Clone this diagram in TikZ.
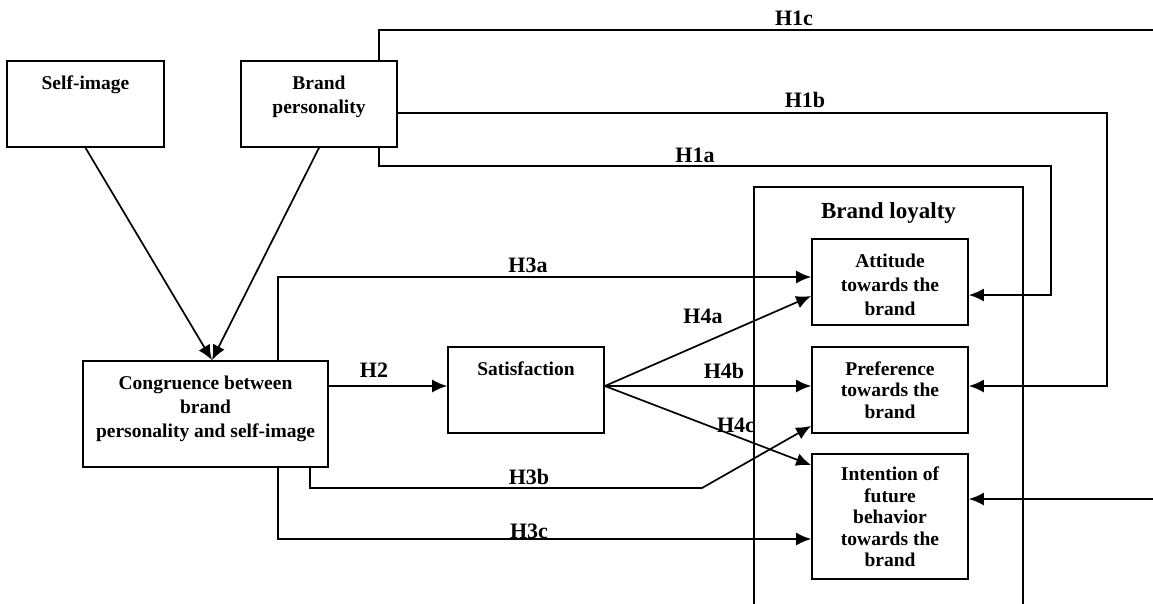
\documentclass[tikz,border=0pt]{standalone}
\usepackage{fontspec}
\setmainfont{Liberation Serif}
\usetikzlibrary{arrows.meta, positioning}

\begin{document}
\begin{tikzpicture}[x=1pt, y=-1pt, line width=1.7pt,
  box/.style = {draw, rectangle, minimum width=156pt, minimum height=86pt, inner sep=0pt},
  txt/.style = {align=center, anchor=north, inner sep=0pt, font=\bfseries\fontsize{19.5}{24}\selectfont},
  tight/.style = {font=\bfseries\fontsize{19.5}{21.5}\selectfont},
  hyp/.style = {inner sep=0pt, font=\bfseries\fontsize{22}{26}\selectfont},
  arr/.style = {-{Latex[length=15pt, width=13pt]}}]

  \useasboundingbox (0,0) rectangle (1153,603);

  % boxes
  \node[box, minimum width=157pt] (self) at (85.5,104) {};
  \node[box] (bp) at (319,104) {};
  \node[box, minimum width=245pt, minimum height=106pt] (cong) at (205.5,414) {};
  \node[box] (sat) at (526,390) {};
  \node[draw, minimum width=269pt, minimum height=440pt] (loyal) at (888.5,407) {};
  \node[box] (att) at (890,282) {};
  \node[box] (pref) at (890,390) {};
  \node[box, minimum height=125pt] (intent) at (890,516.5) {};

  % texts in the boxes
  \node[txt, below=14.5pt of self.north] (tself) {Self-image};
  \node[txt, below=14.5pt of bp.north] (tbp) {Brand\\personality};
  \node[txt, below=14.5pt of cong.north] (tcong) {Congruence between\\brand\\personality and self-image};
  \node[txt, below=14.5pt of sat.north] (tsat) {Satisfaction};
  \node[inner sep=0pt, anchor=north, font=\bfseries\fontsize{23}{26}\selectfont,
    below=16pt of loyal.north] (tloyal) {Brand loyalty};
  \node[txt, below=14.5pt of att.north] (tatt) {Attitude\\towards the\\brand};
  \node[txt, tight, below=14.5pt of pref.north] (tpref) {Preference\\towards the\\brand};
  \node[txt, tight, below=13pt of intent.north] (tintent) {Intention of\\future\\behavior\\towards the\\brand};

  % corners and free ends
  \coordinate (h1c) at (1153,30);
  \coordinate (h1b) at (1107,113);
  \coordinate (h1a) at (1051,166);
  \coordinate (rin) at (1153,499);
  \coordinate (h3b) at (702,488);
  \coordinate (s4) at ([yshift=4pt]sat.east);

  % into the congruence
  \draw[arr] (self.south) -- ([xshift=6.5pt]cong.north);
  \draw[arr] (bp.south) -- ([xshift=6.5pt]cong.north);

  % H1
  \draw ([xshift=-19pt]bp.north east) |- (h1c);
  \draw[arr] ([yshift=-9pt]bp.east) -- (h1b) |- ([yshift=4pt]pref.east);
  \draw[arr] ([xshift=-19pt]bp.south east) |- (h1a) |- ([yshift=-13pt]att.east);
  \draw[arr] (rin) -- (rin -| intent.east);

  % H2, H3
  \draw[arr] ([yshift=28pt]cong.east) -- ([yshift=28pt]cong.east -| sat.west);
  \draw[arr] ([xshift=72.5pt]cong.north) |- ([yshift=5pt]att.west);
  \draw[arr] ([xshift=104.5pt]cong.south) |- (h3b) -- ([yshift=8pt]pref.south west);
  \draw[arr] ([xshift=72.5pt]cong.south) |- ([yshift=-22.5pt]intent.west);

  % H4
  \draw[arr] (s4) -- ([yshift=-14pt]att.west);
  \draw[arr] (s4) -- (s4 -| pref.west);
  \draw[arr] (s4) -- ([yshift=-12pt]intent.north west);

  % labels
  \node[hyp] (l1c) at (794,18) {H1c};
  \node[hyp] (l1b) at (805,100) {H1b};
  \node[hyp] (l1a) at (695,155) {H1a};
  \node[hyp] (l3a) at (528,265) {H3a};
  \node[hyp] (l2) at (374,370) {H2};
  \node[hyp] (l4a) at (703,316) {H4a};
  \node[hyp] (l4b) at (724,371) {H4b};
  \node[hyp] (l4c) at (736,425) {H4c};
  \node[hyp] (l3b) at (529,477) {H3b};
  \node[hyp] (l3c) at (529,531) {H3c};
\end{tikzpicture}
\end{document}
